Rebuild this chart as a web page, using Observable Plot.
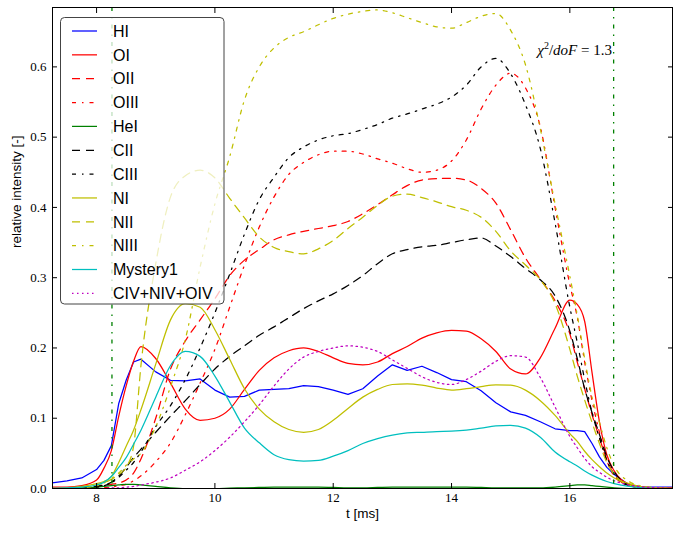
<!DOCTYPE html>
<html><head><meta charset="utf-8">
<script src="https://cdn.jsdelivr.net/npm/d3@7"></script>
<script src="https://cdn.jsdelivr.net/npm/@observablehq/plot@0.6"></script>
<style>
body{margin:0;background:#fff;} #chart{width:682px;height:533px;}
#chart svg g[aria-label$="tick label"] text{font-family:'Liberation Serif','Times New Roman',serif !important;font-size:13px;}
</style>
</head><body><div id="chart"></div>
<script>
// time grid [ms]
const t = [7.25,7.5,7.75,8.0, 8.125,8.25,8.375,8.5,8.625,8.75, 9.0,9.25,9.5,9.75, 10.0,10.25,10.5,10.75, 11.0,11.25,11.5,11.75, 12.0,12.25,12.5,12.75, 13.0,13.25,13.5,13.75, 14.0,14.25,14.5,14.75, 15.0,15.25,15.5,15.75, 16.0,16.125,16.25,16.375,16.5,16.625,16.75, 17.0,17.25,17.5,17.75];

const HI = [0.008,0.011,0.015,0.027, 0.040,0.061,0.121,0.154,0.180,0.184, 0.166,0.154,0.153,0.156, 0.140,0.130,0.131,0.140, 0.141,0.142,0.1465,0.145, 0.140,0.134,0.142,0.160, 0.176,0.168,0.174,0.165, 0.155,0.152,0.139,0.122, 0.109,0.104,0.095,0.085, 0.0825,0.0825,0.081,0.064,0.045,0.030,0.020, 0.005,0.002,0.002,0.002];
const OI = [0.002,0.002,0.004,0.012, 0.029,0.054,0.103,0.146,0.181,0.202, 0.185,0.150,0.113,0.097, 0.100,0.113,0.141,0.168, 0.186,0.196,0.200,0.195, 0.186,0.178,0.176,0.180, 0.192,0.202,0.214,0.2215, 0.225,0.224,0.213,0.195, 0.170,0.163,0.186,0.228, 0.268,0.262,0.238,0.165,0.095,0.048,0.025, 0.006,0.002,0.001,0.001];
const OII = [0,0,0.001,0.002, 0.004,0.006,0.008,0.012,0.022,0.042, 0.100,0.170,0.210,0.240, 0.270,0.303,0.325,0.340, 0.354,0.361,0.366,0.370, 0.374,0.380,0.391,0.404, 0.418,0.431,0.439,0.441, 0.4415,0.439,0.427,0.406, 0.368,0.328,0.298,0.267, 0.220,0.180,0.142,0.105,0.072,0.041,0.020, 0.004,0.001,0,0];
const OIII = [0,0,0,0, 0.001,0.002,0.004,0.006,0.011,0.018, 0.038,0.065,0.105,0.150, 0.198,0.258,0.318,0.372, 0.415,0.447,0.464,0.475, 0.480,0.480,0.476,0.469, 0.463,0.455,0.450,0.453, 0.466,0.496,0.540,0.574, 0.591,0.570,0.515,0.400, 0.290,0.244,0.180,0.125,0.080,0.040,0.018, 0.004,0.001,0,0];
const HeI = [0,0,0.001,0.002, 0.003,0.004,0.005,0.006,0.006,0.005, 0.003,0.001,0,0, 0,0.0005,0.001,0.0015, 0.002,0.002,0.002,0.002, 0.0015,0.001,0.001,0.0015, 0.002,0.002,0.002,0.002, 0.002,0.002,0.0015,0.001, 0.001,0.001,0.001,0.002, 0.004,0.005,0.005,0.004,0.003,0.002,0.001, 0,0,0,0];
const CII = [0,0,0.001,0.003, 0.005,0.009,0.018,0.030,0.044,0.056, 0.080,0.103,0.125,0.148, 0.170,0.188,0.203,0.218, 0.230,0.243,0.256,0.267, 0.277,0.289,0.303,0.320, 0.334,0.340,0.344,0.346, 0.350,0.354,0.3565,0.345, 0.330,0.313,0.297,0.274, 0.224,0.185,0.142,0.108,0.077,0.045,0.024, 0.005,0.001,0,0];
const CIII = [0,0,0,0.002, 0.004,0.008,0.016,0.026,0.037,0.052, 0.088,0.118,0.155,0.200, 0.250,0.305,0.362,0.411, 0.443,0.471,0.486,0.496, 0.502,0.505,0.511,0.518, 0.527,0.533,0.540,0.547, 0.557,0.574,0.600,0.612, 0.590,0.546,0.484,0.378, 0.258,0.208,0.155,0.108,0.072,0.040,0.020, 0.004,0.001,0,0];
const NI = [0,0.001,0.003,0.007, 0.010,0.017,0.037,0.060,0.083,0.112, 0.177,0.240,0.263,0.258, 0.226,0.184,0.142,0.113, 0.095,0.084,0.080,0.084, 0.097,0.114,0.130,0.141, 0.148,0.149,0.147,0.143, 0.140,0.142,0.145,0.1475, 0.147,0.140,0.125,0.104, 0.078,0.067,0.053,0.041,0.031,0.022,0.015, 0.007,0.002,0.001,0];
const NII = [0,0,0.002,0.005, 0.008,0.013,0.020,0.030,0.060,0.175, 0.320,0.415,0.445,0.453, 0.442,0.413,0.385,0.358, 0.343,0.337,0.334,0.341, 0.353,0.370,0.386,0.403, 0.416,0.419,0.414,0.408, 0.401,0.396,0.386,0.366, 0.338,0.318,0.297,0.263, 0.198,0.160,0.126,0.094,0.064,0.037,0.020, 0.005,0.001,0,0];
const NIII = [0,0,0.001,0.004, 0.008,0.014,0.022,0.033,0.042,0.050, 0.088,0.145,0.212,0.315, 0.405,0.472,0.553,0.600, 0.627,0.642,0.650,0.660, 0.669,0.675,0.679,0.681, 0.677,0.670,0.663,0.657, 0.655,0.663,0.672,0.676, 0.652,0.603,0.512,0.405, 0.302,0.247,0.185,0.130,0.094,0.058,0.032, 0.010,0.003,0.001,0];
const Mystery1 = [0,0.001,0.002,0.005, 0.009,0.017,0.030,0.044,0.063,0.083, 0.130,0.175,0.195,0.188, 0.160,0.123,0.086,0.065, 0.048,0.041,0.039,0.040, 0.046,0.054,0.064,0.071, 0.076,0.079,0.080,0.081, 0.0815,0.083,0.086,0.089, 0.090,0.086,0.073,0.052, 0.038,0.032,0.025,0.019,0.014,0.010,0.007, 0.003,0.001,0,0];
const CNOIV = [0,0,0,0, 0,0.001,0.001,0.002,0.003,0.005, 0.009,0.015,0.026,0.038, 0.054,0.073,0.095,0.119, 0.146,0.170,0.187,0.195, 0.200,0.203,0.201,0.195, 0.183,0.171,0.159,0.151, 0.148,0.155,0.167,0.181, 0.189,0.187,0.158,0.116, 0.074,0.058,0.043,0.031,0.023,0.016,0.011, 0.005,0.002,0.001,0];

const seriesNames = ["HI","OI","OII","OIII","HeI","CII","CIII","NI","NII","NIII","Mystery1","CIV+NIV+OIV"];
const seriesValues = [HI,OI,OII,OIII,HeI,CII,CIII,NI,NII,NIII,Mystery1,CNOIV];
const seriesColors = ["#0000ff","#ff0000","#ff0000","#ff0000","#008000","#000000","#000000","#bfbf00","#bfbf00","#bfbf00","#00bfbf","#bf00bf"];
const DASH = "8,6", DASHDOT = "4,6,1.5,6", DOT = "1.5,3.5";
const seriesDash = [null,null,DASH,DASHDOT,null,DASH,DASHDOT,null,DASH,DASHDOT,null,DOT];

const markerT = [8.26, 16.74];
const xTicks = [8,10,12,14,16];
const xTickLabels = ["8","10","12","14","16"];
const yTicks = [0,0.1,0.2,0.3,0.4,0.5,0.6];
const yTickLabels = ["0.0","0.1","0.2","0.3","0.4","0.5","0.6"];
const xLabel = "t [ms]";
const yLabel = "relative intensity [-]";

const SANS = "'Liberation Sans', Arial, sans-serif";
const SERIF = "'Liberation Serif', 'Times New Roman', serif";

const rows = vals => t.map((x,i)=>({t:x, v:vals[i]}));

const marks = [
  ...seriesValues.map((vals,i)=>Plot.line(rows(vals), {
    x:"t", y:"v", stroke: seriesColors[i], strokeWidth: 1.25,
    strokeDasharray: seriesDash[i] ?? undefined,
    curve: i===0 ? "linear" : "monotone-x", clip: true
  })),
  Plot.ruleX(markerT, {stroke:"#008000", strokeWidth:1.3, strokeDasharray:"4,6,1.5,6"}),
  Plot.frame({stroke:"#000"}),
  Plot.axisX(xTicks, {anchor:"bottom", tickSize:5, dy:-5, tickPadding:4.5, tickFormat: d=>xTickLabels[xTicks.indexOf(d)], label:null, fontFamily:SERIF, fontSize:13, color:"#000"}),
  Plot.axisX(xTicks, {anchor:"top", tickSize:5, dy:5, tickFormat: ()=>"", label:null, color:"#000"}),
  Plot.axisY(yTicks, {anchor:"left", tickSize:5, dx:5, tickPadding:6, tickFormat: d=>yTickLabels[yTicks.indexOf(d)], label:null, fontFamily:SERIF, fontSize:13, color:"#000"}),
  Plot.axisY(yTicks, {anchor:"right", tickSize:5, dx:-5, tickFormat: ()=>"", label:null, color:"#000"}),
  Plot.text([xLabel], {frameAnchor:"bottom", dy:29, text:d=>d, fontFamily:SANS, fontSize:13.5, fill:"#000"}),
  Plot.text([yLabel], {frameAnchor:"left", dx:-36, rotate:-90, text:d=>d, fontFamily:SANS, fontSize:13.5, fill:"#000"})
];

const fig = Plot.plot({
  width:682, height:533,
  marginLeft:52, marginRight:10, marginTop:7, marginBottom:45,
  x:{domain:[7.255,17.735]},
  y:{domain:[0,0.6845]},
  style:{fontFamily:SERIF, fontSize:"13px", background:"white", color:"black", overflow:"visible"},
  marks
});
document.getElementById("chart").appendChild(fig);

const svg = d3.select(fig);
// annotation
const xs = fig.scale("x"), ys = fig.scale("y");
const ann = svg.append("text")
  .attr("x", xs.apply(16.72)).attr("y", ys.apply(0.616))
  .attr("text-anchor","end").attr("font-family",SERIF).attr("font-size",15).attr("fill","#000");
ann.append("tspan").attr("font-style","italic").text("χ");
ann.append("tspan").attr("font-size",10).attr("dy",-6).text("2");
ann.append("tspan").attr("dy",6).text("/");
ann.append("tspan").attr("font-style","italic").text("doF");
ann.append("tspan").text(" = 1.3");

// legend
const lg = svg.append("g").attr("text-anchor","start");
lg.append("rect").attr("x",60.5).attr("y",17.5).attr("width",163.5).attr("height",286.5).attr("rx",4)
  .attr("fill","white").attr("fill-opacity",0.75).attr("stroke","#444").attr("stroke-width",1);
seriesNames.forEach((name,i)=>{
  const y = 31 + i*23.85;
  lg.append("line").attr("x1",72).attr("x2",97).attr("y1",y).attr("y2",y)
    .attr("stroke",seriesColors[i]).attr("stroke-width",1.25)
    .attr("stroke-dasharray",seriesDash[i]);
  lg.append("text").attr("x",113).attr("y",y).attr("dy","0.36em").attr("text-anchor","start")
    .attr("font-family",SANS).attr("font-size",16).attr("fill","#000").text(name);
});
</script>
</body></html>
